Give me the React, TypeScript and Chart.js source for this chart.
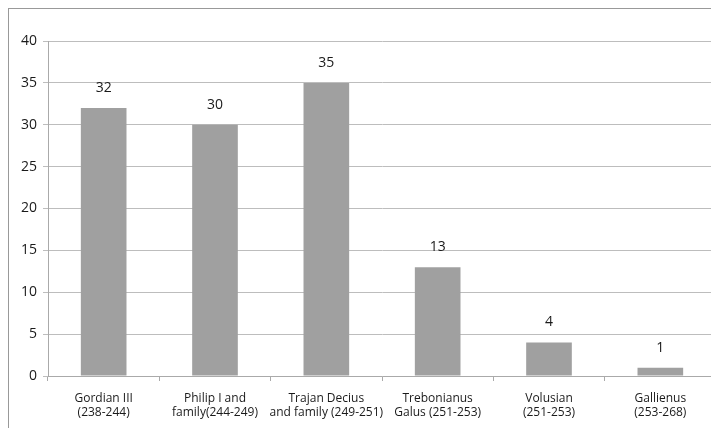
import React, { useEffect, useRef } from "react";
import { Chart, registerables } from "chart.js";

Chart.register(...registerables);

const categories: string[][] = [
  ["Gordian III", "(238-244)"],
  ["Philip I and", "family(244-249)"],
  ["Trajan Decius", "and family (249-251)"],
  ["Trebonianus", "Galus (251-253)"],
  ["Volusian", "(251-253)"],
  ["Gallienus", "(253-268)"],
];
const values: number[] = [32, 30, 35, 13, 4, 1];
const yTicks = { min: 0, max: 40, step: 5 };

const FONT = "'Open Sans', 'Noto Sans', sans-serif";

const dataLabels = {
  id: "dataLabels",
  afterDatasetsDraw(chart: any) {
    const ctx = chart.ctx;
    const meta = chart.getDatasetMeta(0);
    ctx.save();
    ctx.font = `14px ${FONT}`;
    ctx.fillStyle = "#1a1a1a";
    ctx.textAlign = "center";
    ctx.textBaseline = "middle";
    meta.data.forEach((bar: any, i: number) => {
      ctx.fillText(String(values[i]), bar.x, bar.y - 20);
    });
    ctx.restore();
  },
};

export default function App() {
  const ref = useRef<HTMLCanvasElement | null>(null);
  useEffect(() => {
    if (!ref.current) return;
    const chart = new Chart(ref.current, {
      type: "bar",
      data: {
        labels: categories,
        datasets: [
          {
            data: values,
            backgroundColor: "#a0a0a0",
            categoryPercentage: 1,
            barPercentage: 0.41,
          },
        ],
      },
      options: {
        responsive: false,
        animation: false,
        layout: { padding: { top: 32, right: 3, left: 0, bottom: 0 } },
        plugins: { legend: { display: false }, tooltip: { enabled: false } },
        scales: {
          x: {
            offset: true,
            grid: {
              offset: true,
              drawOnChartArea: false,
              drawTicks: true,
              tickLength: 5,
              color: "#aaa",
            },
            border: { color: "#aaa" },
            ticks: {
              color: "#1a1a1a",
              font: { family: FONT, size: 12, lineHeight: 1.17 },
              maxRotation: 0,
              autoSkip: false,
              padding: 11,
            },
            afterFit: (s: any) => {
              s.height = 52;
            },
          },
          y: {
            min: yTicks.min,
            max: yTicks.max,
            ticks: {
              stepSize: yTicks.step,
              color: "#1a1a1a",
              font: { family: FONT, size: 14 },
              padding: 6,
            },
            grid: { color: "#bdbdbd", tickLength: 5 },
            border: { color: "#aaa" },
            afterFit: (s: any) => {
              s.width = 39;
            },
          },
        },
      },
      plugins: [dataLabels],
    });
    return () => chart.destroy();
  }, []);
  return (
    <div
      style={{
        width: 710,
        height: 419,
        borderLeft: "1px solid #999",
        borderTop: "1px solid #999",
        background: "#fff",
      }}
    >
      <canvas ref={ref} width={710} height={419} style={{ display: "block" }} />
    </div>
  );
}
